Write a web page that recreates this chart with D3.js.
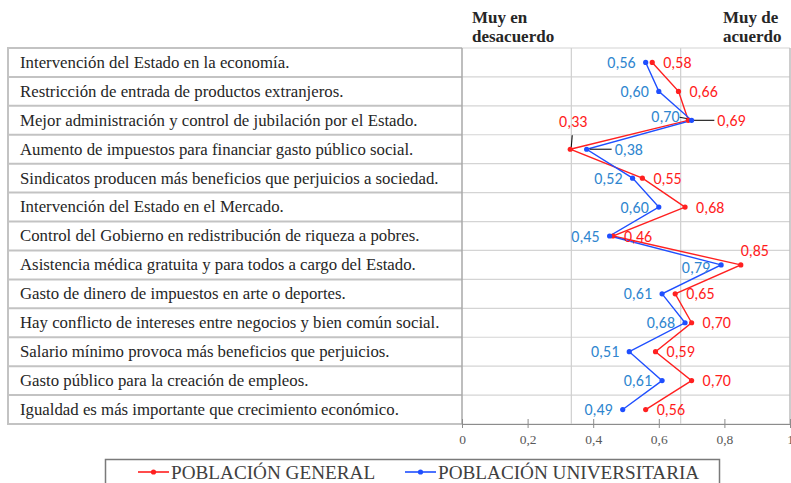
<!DOCTYPE html>
<html>
<head>
<meta charset="utf-8">
<script src="https://cdn.jsdelivr.net/npm/d3@7"></script>
<style>
  body { margin: 0; background: #fff; }
  svg { display: block; }
</style>
</head>
<body>
<svg id="chart" width="791" height="483"></svg>
<script>
// items, top to bottom
const items = [
    "Intervención del Estado en la economía.",
    "Restricción de entrada de productos extranjeros.",
    "Mejor administración y control de jubilación por el Estado.",
    "Aumento de impuestos para financiar gasto público social.",
    "Sindicatos producen más beneficios que perjuicios a sociedad.",
    "Intervención del Estado en el Mercado.",
    "Control del Gobierno en redistribución de riqueza a pobres.",
    "Asistencia médica gratuita y para todos a cargo del Estado.",
    "Gasto de dinero de impuestos en arte o deportes.",
    "Hay conflicto de intereses entre negocios y bien común social.",
    "Salario mínimo provoca más beneficios que perjuicios.",
    "Gasto público para la creación de empleos.",
    "Igualdad es más importante que crecimiento económico."
];
const general = [0.58, 0.66, 0.69, 0.33, 0.55, 0.68, 0.46, 0.85, 0.65, 0.70, 0.59, 0.70, 0.56];
const universitaria = [0.56, 0.60, 0.70, 0.38, 0.52, 0.60, 0.45, 0.79, 0.61, 0.68, 0.51, 0.61, 0.49];
const seriesNames = ["POBLACIÓN GENERAL", "POBLACIÓN UNIVERSITARIA"];
const xTicks = [0, 0.2, 0.4, 0.6, 0.8, 1];
const gridThirds = [1 / 3, 2 / 3];

// label placement tweaks (dx, dy, anchor) per row
const redLabelPos = items.map(() => ({dx: 11, dy: 0, anchor: "start"}));
redLabelPos[2] = {dx: 29, dy: 0, anchor: "start"};
redLabelPos[3] = {dx: 3, dy: -28, anchor: "middle"};
redLabelPos[7] = {dx: 14, dy: -15, anchor: "middle"};
const blueLabelPos = items.map(() => ({dx: -10, dy: 0, anchor: "end"}));
blueLabelPos[2] = {dx: -12, dy: -4, anchor: "end"};
blueLabelPos[3] = {dx: 28, dy: 0, anchor: "start"};
blueLabelPos[7] = {dx: -11, dy: 2, anchor: "end"};

const RED = "#ff2020", BLUE = "#1f4fff";
const RED_TXT = "#ff1c1c", BLUE_TXT = "#2f86cf";
const serif = "'Liberation Serif', 'Times New Roman', serif";
const sans = "Carlito, Lato, 'Liberation Sans', sans-serif";

const svg = d3.select("#chart");
const tableLeft = 8, plotLeft = 462, plotRight = 790, plotTop = 48, plotBottom = 424;

const x = d3.scaleLinear().domain([0, 1]).range([plotLeft, plotRight]);
const y = d3.scaleBand().domain(d3.range(items.length)).range([plotTop, plotBottom]);
const yc = i => y(i) + y.bandwidth() / 2;

// header
const hdr = svg.append("g")
    .attr("font-family", serif)
    .attr("font-weight", "bold")
    .attr("font-size", 17)
    .attr("fill", "#262626");
hdr.append("text").attr("x", 472).attr("y", 23).text("Muy en");
hdr.append("text").attr("x", 472).attr("y", 42).text("desacuerdo");
hdr.append("text").attr("x", 723).attr("y", 23).text("Muy de");
hdr.append("text").attr("x", 723).attr("y", 42).text("acuerdo");

// table rows (label side)
const rowBounds = d3.range(items.length + 1).map(i => i < items.length ? y(i) : plotBottom);
svg.append("g").selectAll("line")
    .data(rowBounds)
    .join("line")
    .attr("x1", tableLeft).attr("x2", plotLeft)
    .attr("y1", d => d).attr("y2", d => d)
    .attr("stroke", "#c3c3c3").attr("stroke-width", 2);
svg.append("line")
    .attr("x1", tableLeft).attr("x2", tableLeft)
    .attr("y1", plotTop - 1).attr("y2", plotBottom + 1)
    .attr("stroke", "#c3c3c3").attr("stroke-width", 2);

svg.append("g")
    .attr("font-family", serif)
    .attr("font-size", 16.8)
    .attr("fill", "#262626")
    .selectAll("text")
    .data(items)
    .join("text")
    .attr("x", 20)
    .attr("y", (d, i) => yc(i))
    .attr("dy", "0.32em")
    .text(d => d);

// plot grid
svg.append("g").selectAll("line")
    .data(rowBounds)
    .join("line")
    .attr("x1", plotLeft).attr("x2", plotRight)
    .attr("y1", d => d).attr("y2", d => d)
    .attr("stroke", "#d4d4d4").attr("stroke-width", 1.2);
svg.append("g").selectAll("line")
    .data(gridThirds)
    .join("line")
    .attr("x1", d => x(d)).attr("x2", d => x(d))
    .attr("y1", plotTop).attr("y2", plotBottom)
    .attr("stroke", "#cfcfcf").attr("stroke-width", 1.2);
svg.append("line")
    .attr("x1", plotRight).attr("x2", plotRight)
    .attr("y1", plotTop).attr("y2", plotBottom)
    .attr("stroke", "#bdbdbd").attr("stroke-width", 1.5);
svg.append("line")
    .attr("x1", plotLeft).attr("x2", plotLeft)
    .attr("y1", plotTop).attr("y2", plotBottom)
    .attr("stroke", "#a8a8a8").attr("stroke-width", 1.5);

// x axis
const axis = svg.append("g")
    .attr("transform", `translate(0,${plotBottom})`)
    .call(d3.axisBottom(x).tickValues(xTicks).tickSize(4)
        .tickFormat(d => d3.format("~g")(d).replace(".", ",")));
axis.select(".domain").attr("stroke", "#8c8c8c");
axis.selectAll(".tick line").attr("stroke", "#8c8c8c").attr("y1", -5);
axis.selectAll(".tick text")
    .attr("font-family", serif)
    .attr("font-size", 13.5)
    .attr("fill", "#595959")
    .attr("y", 10);

// series lines
const line = d3.line().x(d => x(d[0])).y(d => yc(d[1]));
const seriesData = [
    {vals: general, color: RED, txt: RED_TXT, pos: redLabelPos},
    {vals: universitaria, color: BLUE, txt: BLUE_TXT, pos: blueLabelPos}
];

// leader lines (black)
const leaders = [
    {s: 0, i: 3, x1: 1, y1: -2, x2: 2, y2: -14},
    {s: 1, i: 3, x1: 3, y1: 0, x2: 25, y2: 0},
    {s: 0, i: 2, x1: 2, y1: 0, x2: 26, y2: 0},
    {s: 1, i: 2, x1: -1, y1: -1, x2: -12, y2: -3}
];

seriesData.forEach(s => {
    svg.append("path")
        .datum(s.vals.map((v, i) => [v, i]))
        .attr("fill", "none")
        .attr("stroke", s.color)
        .attr("stroke-width", 1.4)
        .attr("d", line);
});

svg.append("g").selectAll("line")
    .data(leaders)
    .join("line")
    .attr("x1", d => x(seriesData[d.s].vals[d.i]) + d.x1)
    .attr("y1", d => yc(d.i) + d.y1)
    .attr("x2", d => x(seriesData[d.s].vals[d.i]) + d.x2)
    .attr("y2", d => yc(d.i) + d.y2)
    .attr("stroke", "#111")
    .attr("stroke-width", 1.1);

seriesData.forEach(s => {
    svg.append("g").selectAll("circle")
        .data(s.vals)
        .join("circle")
        .attr("cx", d => x(d))
        .attr("cy", (d, i) => yc(i))
        .attr("r", 2.6)
        .attr("fill", s.color);

    svg.append("g")
        .attr("font-family", sans)
        .attr("font-size", 16)
        .attr("fill", s.txt)
        .selectAll("text")
        .data(s.vals)
        .join("text")
        .attr("x", (d, i) => x(d) + s.pos[i].dx)
        .attr("y", (d, i) => yc(i) + s.pos[i].dy)
        .attr("dy", "0.35em")
        .attr("text-anchor", (d, i) => s.pos[i].anchor)
        .text(d => d3.format(".2f")(d).replace(".", ","));
});

// legend
svg.append("rect")
    .attr("x", 105.5).attr("y", 459.5)
    .attr("width", 614).attr("height", 40)
    .attr("fill", "#fff")
    .attr("stroke", "#7a7a7a").attr("stroke-width", 1.5);
const legX = [138, 405];
const leg = svg.append("g").selectAll("g")
    .data(seriesNames)
    .join("g")
    .attr("transform", (d, i) => `translate(${legX[i]},472)`);
leg.append("line")
    .attr("x1", 0).attr("x2", 31)
    .attr("stroke", (d, i) => seriesData[i].color).attr("stroke-width", 1.6);
leg.append("circle")
    .attr("cx", 15.5).attr("r", 2.6)
    .attr("fill", (d, i) => seriesData[i].color);
leg.append("text")
    .attr("x", 33).attr("dy", "0.35em")
    .attr("font-family", serif)
    .attr("font-size", 19.2)
    .attr("fill", "#404040")
    .text(d => d);
</script>
</body>
</html>
